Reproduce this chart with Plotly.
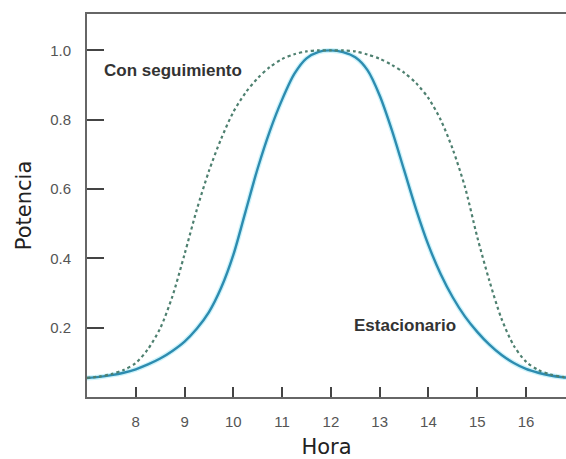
import plotly.graph_objects as go

# Hour grid (quarter hours)
hora = [7.0, 7.25, 7.5, 7.75, 8.0, 8.25, 8.5, 8.75, 9.0, 9.25, 9.5, 9.75, 10.0, 10.25, 10.5, 10.75,
        11.0, 11.25, 11.5, 11.75, 12.0, 12.25, 12.5, 12.75, 13.0, 13.25, 13.5, 13.75, 14.0, 14.25,
        14.5, 14.75, 15.0, 15.25, 15.5, 15.75, 16.0, 16.25, 16.5, 16.75, 17.0]

# Estacionario (solid)
pot_est = [0.055, 0.058, 0.063, 0.070, 0.080, 0.094, 0.111, 0.133, 0.160, 0.197, 0.245, 0.315,
           0.410, 0.535, 0.660, 0.768, 0.858, 0.932, 0.977, 0.996, 1.000, 0.995, 0.980, 0.943,
           0.870, 0.770, 0.655, 0.540, 0.438, 0.355, 0.287, 0.232, 0.188, 0.151, 0.121, 0.098,
           0.081, 0.070, 0.062, 0.057, 0.054]

# Con seguimiento (dotted)
pot_seg = [0.055, 0.059, 0.066, 0.078, 0.098, 0.138, 0.198, 0.290, 0.412, 0.540, 0.652, 0.745,
           0.822, 0.878, 0.920, 0.952, 0.975, 0.989, 0.997, 1.000, 1.000, 1.000, 0.997, 0.988,
           0.976, 0.958, 0.936, 0.905, 0.862, 0.800, 0.714, 0.605, 0.462, 0.335, 0.225, 0.148,
           0.102, 0.078, 0.065, 0.058, 0.055]

x_ticks = [8, 9, 10, 11, 12, 13, 14, 15, 16]
y_ticks = [0.2, 0.4, 0.6, 0.8, 1.0]
y_tick_labels = ["0.2", "0.4", "0.6", "0.8", "1.0"]

fig = go.Figure()
fig.add_trace(go.Scatter(x=hora, y=pot_est, mode="lines",
                         line=dict(color="#cdf3fb", width=5, shape="spline", smoothing=0.8),
                         hoverinfo="skip", showlegend=False))
fig.add_trace(go.Scatter(x=hora, y=pot_est, mode="lines", name="Estacionario",
                         line=dict(color="#2d8cb0", width=2.4, shape="spline", smoothing=0.8),
                         showlegend=False))
fig.add_trace(go.Scatter(x=hora, y=pot_seg, mode="lines", name="Con seguimiento",
                         line=dict(color="#4e8070", width=2.2, dash="dot", shape="spline", smoothing=0.8),
                         showlegend=False))

fig.add_annotation(x=7.31, y=0.941, text="<b>Con seguimiento</b>", showarrow=False,
                   xanchor="left", yanchor="middle",
                   font=dict(family="Liberation Sans", size=17, color="#333333"))
fig.add_annotation(x=12.43, y=0.207, text="<b>Estacionario</b>", showarrow=False,
                   xanchor="left", yanchor="middle",
                   font=dict(family="Liberation Sans", size=17, color="#333333"))

fig.update_layout(
    width=566, height=459,
    margin=dict(l=87, r=0, t=14, b=62),
    paper_bgcolor="white", plot_bgcolor="white",
    xaxis=dict(range=[7.0, 16.82], tickvals=x_ticks, ticks="inside", ticklen=10, tickwidth=2,
               tickcolor="#444444", showline=True, linecolor="#666666", linewidth=2, mirror=True,
               showgrid=False, zeroline=False, automargin=False, ticklabelstandoff=10,
               tickfont=dict(family="Liberation Sans", size=15, color="#555555"),
               title=dict(text="Hora", font=dict(family="DejaVu Sans", size=21, color="#222222"),
                          standoff=14)),
    yaxis=dict(range=[0, 1.105], tickvals=y_ticks, ticktext=y_tick_labels, ticks="inside", ticklen=17,
               tickwidth=2, tickcolor="#444444", showline=True, linecolor="#666666", linewidth=2,
               showgrid=False, zeroline=False, automargin=False, ticklabelstandoff=11,
               tickfont=dict(family="Liberation Sans", size=15, color="#555555"),
               title=dict(text="Potencia", font=dict(family="DejaVu Sans", size=21, color="#222222"),
                          standoff=13)),
)

fig.write_html("out.html", config={"displayModeBar": False},
               post_script="document.body.style.margin='0px';document.body.style.overflow='hidden';")
